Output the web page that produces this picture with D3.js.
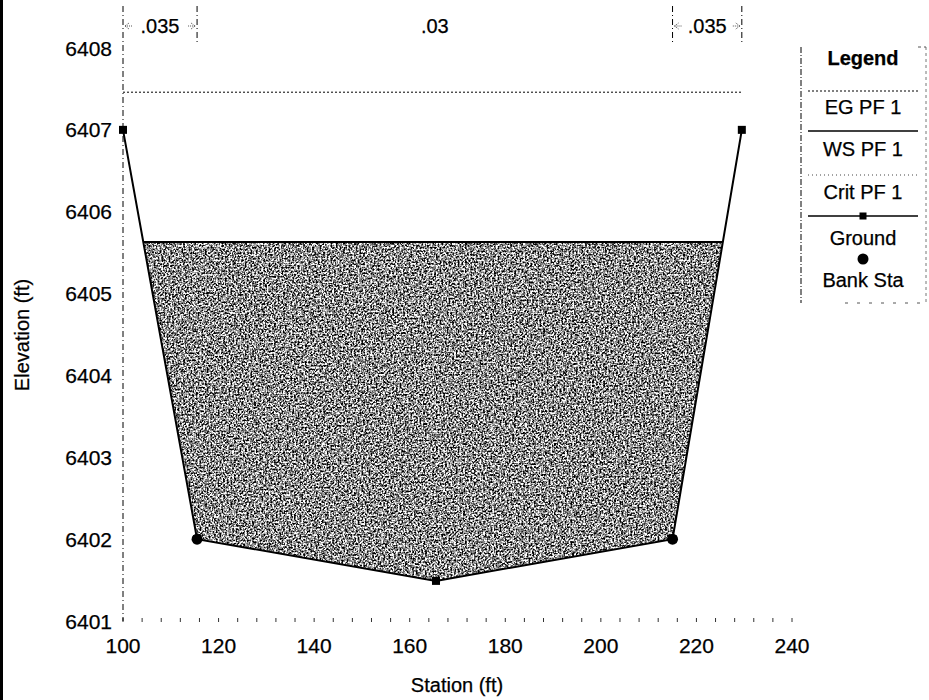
<!DOCTYPE html>
<html><head><meta charset="utf-8">
<script src="https://cdn.jsdelivr.net/npm/d3@7"></script>
<style>body{margin:0;background:#fff;} text{font-family:"Liberation Sans",Arial,sans-serif;fill:#000;stroke:#000;stroke-width:0.25px;}</style>
</head><body>
<svg id="c" width="929" height="700"></svg>
<script>
// ---- data ----
const groundStation = [100, 115.5, 165.5, 215, 229.5];
const groundElev    = [6407, 6402, 6401.49, 6402, 6407];
const bankStations  = [115.5, 215];
const bankElev      = [6402, 6402];
const wsElev = 6405.63;   // WS PF 1
const egElev = 6407.46;   // EG PF 1
const nBreaks = [100, 115.5, 215, 229.5];
const nValues = [".035", ".03", ".035"];
const xTicks = [100, 120, 140, 160, 180, 200, 220, 240];
const yTicks = [6401, 6402, 6403, 6404, 6405, 6406, 6407, 6408];
const legendNames = ["EG PF 1", "WS PF 1", "Crit PF 1", "Ground", "Bank Sta"];

const FS = 20, TFS = 21;
const svg = d3.select("#c");
const x = d3.scaleLinear().domain([100, 240]).range([123, 792]);
const y = d3.scaleLinear().domain([6401, 6408]).range([621, 48]);

// texture filter
const defs = svg.append("defs");
const f = defs.append("filter").attr("id", "speck").attr("x", 0).attr("y", 0).attr("width", 1).attr("height", 1)
  .attr("color-interpolation-filters", "sRGB");
f.append("feTurbulence").attr("type", "fractalNoise").attr("baseFrequency", 0.55).attr("numOctaves", 2).attr("seed", 4).attr("result", "n");
f.append("feColorMatrix").attr("in", "n").attr("type", "matrix")
  .attr("values", "1 0 0 0 0  1 0 0 0 0  1 0 0 0 0  0 0 0 0 1").attr("result", "g");
const ct = f.append("feComponentTransfer").attr("in", "g").attr("result", "c");
["feFuncR", "feFuncG", "feFuncB"].forEach(k => ct.append(k).attr("type", "linear").attr("slope", 3.0).attr("intercept", -0.95));
f.append("feComposite").attr("in", "c").attr("in2", "SourceGraphic").attr("operator", "in");

// left frame bar
svg.append("rect").attr("x", 0).attr("y", 0).attr("width", 3).attr("height", 700).attr("fill", "#000");

const ground = groundStation.map((s, i) => ({ s, e: groundElev[i] }));

function crossings(level) {
  const pts = [];
  for (let i = 0; i < ground.length - 1; i++) {
    const a = ground[i], b = ground[i + 1];
    if ((a.e - level) * (b.e - level) < 0) {
      const t = (level - a.e) / (b.e - a.e);
      pts.push({ s: a.s + t * (b.s - a.s), e: level, i });
    }
  }
  return pts;
}
const cr = crossings(wsElev);
const poly = [cr[0]];
for (let i = cr[0].i + 1; i <= cr[1].i; i++) poly.push(ground[i]);
poly.push(cr[1]);
svg.append("path")
  .attr("d", d3.line().x(d => x(d.s)).y(d => y(d.e))(poly) + "Z")
  .attr("fill", "#808080").attr("filter", "url(#speck)");

// WS line
svg.append("line").attr("x1", x(cr[0].s)).attr("x2", x(cr[1].s)).attr("y1", y(wsElev)).attr("y2", y(wsElev))
  .attr("stroke", "#000").attr("stroke-width", 2);

// EG line
svg.append("line").attr("x1", x(groundStation[0])).attr("x2", x(groundStation[groundStation.length - 1]))
  .attr("y1", y(egElev)).attr("y2", y(egElev))
  .attr("stroke", "#000").attr("stroke-width", 1).attr("stroke-dasharray", "2,2");

// axes (dotted)
const xMinor = d3.range(100, 241, 4);
svg.selectAll(".xm").data(xMinor).join("line").attr("x1", d => x(d)).attr("x2", d => x(d))
  .attr("y1", y(6401) - 3).attr("y2", y(6401) + 1).attr("stroke", "#333").attr("stroke-width", 1);
svg.append("line").attr("x1", x(100)).attr("x2", x(100)).attr("y1", 6).attr("y2", y(6401))
  .attr("stroke", "#000").attr("stroke-width", 1).attr("stroke-dasharray", "6,3,1,3");

svg.selectAll(".xt").data(xTicks).join("text").attr("x", d => x(d)).attr("y", y(6401) + 32)
  .attr("text-anchor", "middle").attr("font-size", TFS).text(d => d);
svg.selectAll(".yt").data(yTicks).join("text").attr("x", 112).attr("y", d => y(d) + 7.5)
  .attr("text-anchor", "end").attr("font-size", TFS).text(d => d);

svg.append("text").attr("x", 457).attr("y", 692).attr("text-anchor", "middle").attr("font-size", FS).text("Station (ft)");
svg.append("text").attr("transform", "translate(29,335) rotate(-90)").attr("text-anchor", "middle").attr("font-size", FS).text("Elevation (ft)");

// Manning's n breaks
svg.selectAll(".nb").data(nBreaks.slice(1)).join("line").attr("x1", d => x(d)).attr("x2", d => x(d))
  .attr("y1", 6).attr("y2", 44).attr("stroke", "#000").attr("stroke-width", 1).attr("stroke-dasharray", "6,3,1,3");
nValues.forEach((v, i) => {
  const a = x(nBreaks[i]), b = x(nBreaks[i + 1]), m = (a + b) / 2;
  svg.append("text").attr("x", m).attr("y", 33).attr("text-anchor", "middle").attr("font-size", FS).text(v);
  if (b - a < 120) {
    const g = svg.append("g").attr("stroke", "#555").attr("stroke-width", 1).attr("stroke-dasharray", "1,1").attr("fill", "none");
    g.append("path").attr("d", `M${a + 2},26 H${a + 10} M${a + 2},26 l4,-3 M${a + 2},26 l4,3`);
    g.append("path").attr("d", `M${b - 2},26 H${b - 10} M${b - 2},26 l-4,-3 M${b - 2},26 l-4,3`);
  }
});

// ground line + markers
svg.append("path").attr("d", d3.line().x(d => x(d.s)).y(d => y(d.e))(ground))
  .attr("fill", "none").attr("stroke", "#000").attr("stroke-width", 2);
svg.selectAll(".gm").data(ground).join("rect")
  .attr("x", d => x(d.s) - 4).attr("y", d => y(d.e) - 4).attr("width", 8).attr("height", 8).attr("fill", "#000");
svg.selectAll(".bk").data(bankStations).join("circle")
  .attr("cx", d => x(d)).attr("cy", (d, i) => y(bankElev[i])).attr("r", 5.5).attr("fill", "#000");

// legend
const L = svg.append("g");
L.append("line").attr("x1", 801).attr("x2", 801).attr("y1", 47).attr("y2", 303).attr("stroke", "#000").attr("stroke-dasharray", "6,2,1,2");
L.append("line").attr("x1", 926).attr("x2", 926).attr("y1", 47).attr("y2", 303).attr("stroke", "#777").attr("stroke-dasharray", "3,3");
L.append("line").attr("x1", 918).attr("x2", 926).attr("y1", 47).attr("y2", 47).attr("stroke", "#555").attr("stroke-dasharray", "3,3");
L.append("line").attr("x1", 845).attr("x2", 926).attr("y1", 303).attr("y2", 303).attr("stroke", "#555").attr("stroke-dasharray", "3,9");
const cx = 863;
L.append("text").attr("x", cx).attr("y", 65).attr("text-anchor", "middle").attr("font-size", FS).attr("font-weight", "bold").text("Legend");
L.append("line").attr("x1", 808).attr("x2", 918).attr("y1", 91).attr("y2", 91).attr("stroke", "#000").attr("stroke-dasharray", "2,2");
L.append("line").attr("x1", 808).attr("x2", 918).attr("y1", 131).attr("y2", 131).attr("stroke", "#000").attr("stroke-width", 1.5);
L.append("line").attr("x1", 808).attr("x2", 918).attr("y1", 175).attr("y2", 175).attr("stroke", "#444").attr("stroke-dasharray", "1,3");
L.append("line").attr("x1", 808).attr("x2", 918).attr("y1", 216).attr("y2", 216).attr("stroke", "#000").attr("stroke-width", 1.5);
L.append("rect").attr("x", cx - 3.5).attr("y", 212.5).attr("width", 7).attr("height", 7).attr("fill", "#000");
L.append("circle").attr("cx", cx).attr("cy", 259).attr("r", 5.5).attr("fill", "#000");
const ly = [114, 156, 199, 245, 287];
L.selectAll(".lt").data(legendNames).join("text").attr("x", cx).attr("y", (d, i) => ly[i])
  .attr("text-anchor", "middle").attr("font-size", FS).text(d => d);
</script>
</body></html>
